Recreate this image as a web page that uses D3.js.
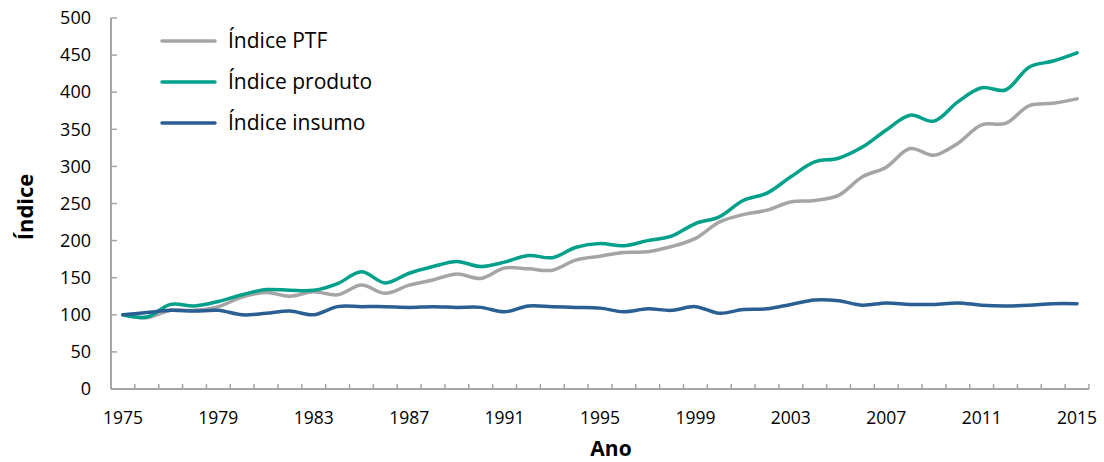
<!DOCTYPE html>
<html>
<head>
<meta charset="utf-8">
<script src="https://cdn.jsdelivr.net/npm/d3@7"></script>
<style>
body { margin: 0; background: #fff; }
text { font-family: "Open Sans", "Noto Sans", sans-serif; }
</style>
</head>
<body>
<div id="chart"></div>
<script>
// anos 1975..2015
var anos = d3.range(1975, 2016)
var ptf = [100, 96, 106, 106, 111, 124, 130, 125, 131, 127, 140, 129, 140, 147, 155, 149, 163, 162, 160, 174,
  179, 184, 185, 192, 203, 225, 235, 241, 252, 254, 261, 286, 299, 324, 315, 331, 356, 358, 382, 385, 391]
var produto = [100, 97, 114, 112, 118, 127, 134, 133, 133, 142, 158, 143, 156, 165, 172, 165, 171, 180, 177, 191,
  196, 193, 200, 206, 223, 232, 254, 264, 286, 306, 311, 326, 349, 369, 361, 387, 406, 403, 434, 442, 453]
var insumo = [100, 103, 106, 105, 106, 100, 102, 105, 100, 111, 111, 111, 110, 111, 110, 110, 104, 112, 111, 110,
  109, 104, 108, 106, 111, 102, 107, 108, 114, 120, 119, 113, 116, 114, 114, 116, 113, 112, 113, 115, 115]
var yTicks = [0, 50, 100, 150, 200, 250, 300, 350, 400, 450, 500]
var xLabels = [1975, 1979, 1983, 1987, 1991, 1995, 1999, 2003, 2007, 2011, 2015]

var series = [
  {name: "Índice PTF", values: ptf, color: "#a5a5a5"},
  {name: "Índice produto", values: produto, color: "#00a08a"},
  {name: "Índice insumo", values: insumo, color: "#2a5f93"}
]

var width = 1104, height = 462
var margin = {top: 18, bottom: 73, left: 111, right: 15}

var svg = d3.select("#chart").append("svg")
  .attr("width", width)
  .attr("height", height)

var x = d3.scaleBand()
  .domain(anos)
  .range([margin.left, width - margin.right])

var y = d3.scaleLinear()
  .domain([0, 500])
  .range([height - margin.bottom, margin.top])

// eixo y
svg.append("g")
  .attr("transform", `translate(${margin.left},0)`)
  .call(d3.axisLeft(y).tickValues(yTicks).tickSize(0).tickPadding(20))
  .call(g => g.select(".domain").remove())
  .call(g => g.selectAll("text").attr("font-size", "18px").attr("fill", "#000"))

svg.append("g")
  .selectAll("line")
  .data(yTicks)
  .join("line")
  .attr("x1", margin.left).attr("x2", margin.left + 6)
  .attr("y1", d => y(d)).attr("y2", d => y(d))
  .attr("stroke", "#a5a5a5").attr("stroke-width", 1.5)

svg.append("line")
  .attr("x1", margin.left).attr("x2", margin.left)
  .attr("y1", y(0)).attr("y2", y(500))
  .attr("stroke", "#a5a5a5").attr("stroke-width", 2)

// eixo x
var bounds = anos.map(a => x(a)).concat([x(2015) + x.bandwidth()])
svg.append("g")
  .selectAll("line")
  .data(bounds.slice(1))
  .join("line")
  .attr("x1", d => d).attr("x2", d => d)
  .attr("y1", y(0)).attr("y2", y(0) - 5)
  .attr("stroke", "#a5a5a5").attr("stroke-width", 1.5)

svg.append("line")
  .attr("x1", margin.left).attr("x2", width - margin.right)
  .attr("y1", y(0)).attr("y2", y(0))
  .attr("stroke", "#a5a5a5").attr("stroke-width", 2)

svg.append("g")
  .selectAll("text")
  .data(xLabels)
  .join("text")
  .attr("x", d => x(d) + x.bandwidth() / 2)
  .attr("y", y(0) + 35)
  .attr("text-anchor", "middle")
  .attr("font-size", "17.5px")
  .text(d => d)

// titulos
svg.append("text")
  .attr("x", 611).attr("y", 456)
  .attr("text-anchor", "middle")
  .attr("font-size", "21px").attr("font-weight", "bold")
  .text("Ano")

svg.append("text")
  .attr("transform", "translate(33,207) rotate(-90)")
  .attr("text-anchor", "middle")
  .attr("font-size", "22px").attr("font-weight", "bold")
  .text("Índice")

// linhas
var line = d3.line()
  .x((d, i) => x(anos[i]) + x.bandwidth() / 2)
  .y(d => y(d))
  .curve(d3.curveCatmullRom.alpha(0.5))

svg.append("g")
  .selectAll("path")
  .data(series)
  .join("path")
  .attr("fill", "none")
  .attr("stroke", d => d.color)
  .attr("stroke-width", 3.5)
  .attr("stroke-linecap", "round")
  .attr("d", d => line(d.values))

// legenda
var leg = svg.append("g")
  .selectAll("g")
  .data(series)
  .join("g")
  .attr("transform", (d, i) => `translate(162,${41 + i * 41})`)

leg.append("line")
  .attr("x1", 0).attr("x2", 53)
  .attr("stroke", d => d.color)
  .attr("stroke-width", 3.5)
  .attr("stroke-linecap", "round")

leg.append("text")
  .attr("x", 66).attr("y", 7)
  .attr("font-size", "21px")
  .text(d => d.name)
</script>
</body>
</html>
